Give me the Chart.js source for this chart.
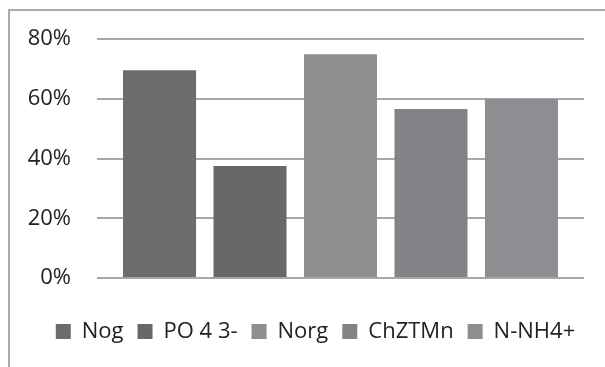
<!DOCTYPE html>
<html>
<head>
<meta charset="utf-8">
<script src="https://cdn.jsdelivr.net/npm/chart.js@4/dist/chart.umd.min.js"></script>
<style>
  html, body { margin: 0; padding: 0; background: #ffffff; }
  #wrap { position: relative; width: 605px; height: 367px; overflow: hidden; }
  #frame {
    position: absolute; left: 8px; top: 9px; width: 700px; height: 500px;
    border-top: 2px solid #ababab; border-left: 2px solid #ababab;
  }
  #chart { position: absolute; left: 0; top: 0; }
</style>
</head>
<body>
<div id="wrap">
  <div id="frame"></div>
  <canvas id="chart" width="605" height="367"></canvas>
</div>
<script>
// Series shown as separate bars, each with its own legend entry
const seriesNames = ['Nog', 'PO 4 3-', 'Norg', 'ChZTMn', 'N-NH4+'];
const seriesValues = [69.6, 37.5, 75.0, 56.6, 60.0];
const seriesColors = ['#6c6c6e', '#68686a', '#8e8e91', '#838387', '#8e8e92'];
const yTicks = [0, 20, 40, 60, 80];

const FONT = '"Open Sans"';

const datasets = seriesNames.map((name, i) => ({
  label: name,
  data: [seriesValues[i]],
  backgroundColor: seriesColors[i],
  borderWidth: 0,
  categoryPercentage: 0.929,
  barPercentage: 0.807
}));

new Chart(document.getElementById('chart'), {
  type: 'bar',
  data: { labels: [''], datasets },
  options: {
    responsive: false,
    animation: false,
    layout: { padding: { left: 26, right: 0, top: 39, bottom: 14.5 } },
    plugins: {
      tooltip: { enabled: false },
      legend: {
        position: 'bottom',
        labels: {
          boxWidth: 15,
          boxHeight: 15,
          padding: 14,
          color: '#222222',
          font: { family: FONT, size: 22 }
        }
      }
    },
    scales: {
      x: {
        display: true,
        grid: { display: false },
        border: { display: false },
        ticks: { display: false },
        afterFit: (scale) => { scale.height = 28.5; }
      },
      y: {
        min: yTicks[0],
        max: yTicks[yTicks.length - 1],
        afterFit: (scale) => { scale.width = 71; },
        afterBuildTicks: (scale) => { scale.ticks = yTicks.map(v => ({ value: v })); },
        border: { display: false },
        grid: { color: '#a8a8a8', lineWidth: 2, drawTicks: false },
        ticks: {
          padding: 26,
          color: '#222222',
          font: { family: FONT, size: 22 },
          callback: (v) => v + '%'
        }
      },
      // empty margin on the right of the plot
      yRight: {
        position: 'right',
        display: true,
        grid: { display: false },
        border: { display: false },
        ticks: { display: false },
        afterFit: (scale) => { scale.width = 21; }
      }
    }
  }
});
</script>
</body>
</html>
